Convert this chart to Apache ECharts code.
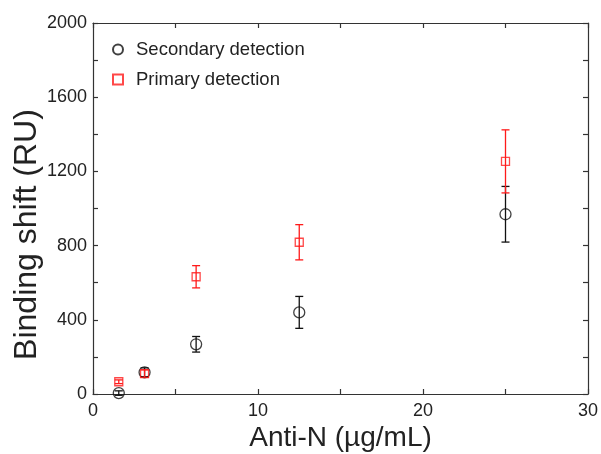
<!DOCTYPE html>
<html>
<head>
<meta charset="utf-8">
<script src="https://cdn.jsdelivr.net/npm/echarts@6/dist/echarts.min.js"></script>
<style>
  html, body { margin: 0; padding: 0; background: #fff; }
  #chart { width: 601px; height: 454px; }
</style>
</head>
<body>
<div id="chart"></div>
<script>
// Anti-N concentration series (two-fold dilutions, µg/mL)
const concentrations = [1.5625, 3.125, 6.25, 12.5, 25];

// Binding shift (RU): mean and error (±) for each detection format
const secondaryMean = [5, 117, 268, 440, 969];
const secondaryErr  = [12, 24, 42, 86, 150];
const primaryMean   = [66, 110, 632, 818, 1254];
const primaryErr    = [10, 20, 60, 95, 170];

const FONT = '"Liberation Sans", Arial, Helvetica, sans-serif';
const AXIS_COLOR = '#333';
const TEXT_COLOR = '#222';

function points(xs, ys) { return xs.map((x, i) => [x, ys[i]]); }
function errRows(xs, ys, es) { return xs.map((x, i) => [x, ys[i] - es[i], ys[i] + es[i]]); }

// Vertical error bar with short caps, placed through the axis scales
function errorBarRenderer(color) {
  return function (params, api) {
    const lo = api.coord([api.value(0), api.value(1)]);
    const hi = api.coord([api.value(0), api.value(2)]);
    const cap = 4;
    const style = { stroke: color, lineWidth: 1.3 };
    return {
      type: 'group',
      children: [
        { type: 'line', shape: { x1: lo[0], y1: lo[1], x2: hi[0], y2: hi[1] }, style },
        { type: 'line', shape: { x1: lo[0] - cap, y1: lo[1], x2: lo[0] + cap, y2: lo[1] }, style },
        { type: 'line', shape: { x1: hi[0] - cap, y1: hi[1], x2: hi[0] + cap, y2: hi[1] }, style }
      ]
    };
  };
}

// Shared frame styling: inward major/minor ticks, no grid lines
function frameAxis(extra) {
  return Object.assign({
    type: 'value',
    axisLine: { show: true, onZero: false, lineStyle: { color: AXIS_COLOR, width: 1.2 } },
    axisTick: { show: true, inside: true, length: 5, lineStyle: { color: AXIS_COLOR, width: 1.2 } },
    minorTick: { show: true, splitNumber: 2, length: 5, lineStyle: { color: AXIS_COLOR, width: 1.2 } },
    splitLine: { show: false },
    minorSplitLine: { show: false }
  }, extra);
}

const labelStyle = {
  show: true, fontFamily: FONT, fontSize: 18, color: TEXT_COLOR,
  formatter: v => String(v)
};

const chart = echarts.init(document.getElementById('chart'), null, { renderer: 'canvas' });

chart.setOption({
  backgroundColor: '#fff',
  animation: false,
  textStyle: { fontFamily: FONT },
  grid: { left: 93, right: 13, top: 23, bottom: 60, containLabel: false, outerBoundsMode: 'none' },
  legend: {
    orient: 'vertical',
    left: 107,
    top: 35,
    itemGap: 11,
    itemWidth: 10,
    itemHeight: 10,
    textStyle: { fontFamily: FONT, fontSize: 18.5, color: TEXT_COLOR, padding: [0, 0, 0, 8] },
    data: [
      { name: 'Secondary detection', icon: 'circle' },
      { name: 'Primary detection', icon: 'rect' }
    ]
  },
  xAxis: [
    frameAxis({
      min: 0, max: 30, interval: 10, position: 'bottom',
      name: 'Anti-N (µg/mL)', nameLocation: 'middle', nameGap: 30, nameMoveOverlap: false,
      nameTextStyle: { fontFamily: FONT, fontSize: 28, color: TEXT_COLOR },
      axisLabel: Object.assign({ margin: 8 }, labelStyle)
    }),
    frameAxis({ min: 0, max: 30, interval: 10, position: 'top', axisLabel: { show: false } })
  ],
  yAxis: [
    frameAxis({
      min: 0, max: 2000, interval: 400, position: 'left',
      name: 'Binding shift (RU)', nameLocation: 'middle', nameGap: 50, nameMoveOverlap: false,
      nameTextStyle: { fontFamily: FONT, fontSize: 32, color: TEXT_COLOR, padding: [0, 52, 0, 0] },
      axisLabel: Object.assign({ margin: 6 }, labelStyle)
    }),
    frameAxis({ min: 0, max: 2000, interval: 400, position: 'right', axisLabel: { show: false } })
  ],
  series: [
    {
      name: 'Secondary error',
      type: 'custom',
      renderItem: errorBarRenderer('#111'),
      data: errRows(concentrations, secondaryMean, secondaryErr),
      encode: { x: 0, y: [1, 2] },
      z: 2
    },
    {
      name: 'Primary error',
      type: 'custom',
      renderItem: errorBarRenderer('#ff1a1a'),
      data: errRows(concentrations, primaryMean, primaryErr),
      encode: { x: 0, y: [1, 2] },
      z: 2
    },
    {
      name: 'Secondary detection',
      type: 'scatter',
      symbol: 'circle',
      symbolSize: 11,
      itemStyle: { color: 'rgba(0,0,0,0)', borderColor: '#111', borderWidth: 1.3 },
      data: points(concentrations, secondaryMean),
      z: 3
    },
    {
      name: 'Primary detection',
      type: 'scatter',
      symbol: 'rect',
      symbolSize: 8,
      itemStyle: { color: 'rgba(0,0,0,0)', borderColor: '#ff1a1a', borderWidth: 1.3 },
      data: points(concentrations, primaryMean),
      z: 4
    }
  ]
});
</script>
</body>
</html>
